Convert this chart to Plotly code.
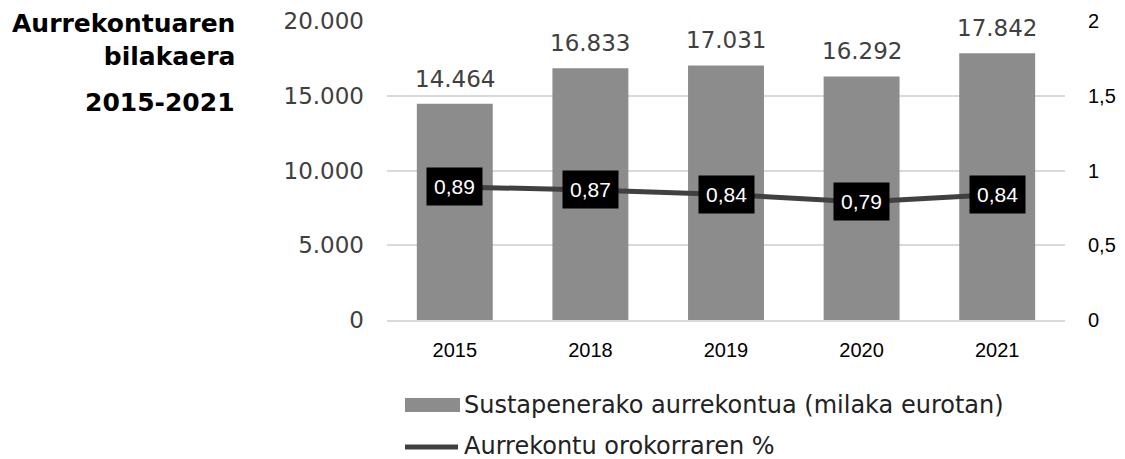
import plotly.graph_objects as go

years = ["2015", "2018", "2019", "2020", "2021"]
budget = [14464, 16833, 17031, 16292, 17842]
pct = [0.89, 0.87, 0.84, 0.79, 0.84]
budget_labels = ["14.464", "16.833", "17.031", "16.292", "17.842"]
pct_labels = ["0,89", "0,87", "0,84", "0,79", "0,84"]
y_ticks = [0, 5000, 10000, 15000, 20000]
y_ticklabels = ["0", "5.000", "10.000", "15.000", "20.000"]
y2_ticks = [0, 0.5, 1, 1.5, 2]
y2_ticklabels = ["0", "0,5", "1", "1,5", "2"]
bar_name = "Sustapenerako aurrekontua (milaka eurotan)"
line_name = "Aurrekontu orokorraren %"

# layout geometry (page has 8px body margin)
W, H = 1117, 451
L, T, R, B = 379, 13, 60, 139
PW, PH = W - L - R, H - T - B
OFF = 8
def px(xabs):
    return (xabs - OFF - L) / PW
def py(yabs):
    return 1 - (yabs - OFF - T) / PH

BAR_COLOR = "#8c8c8c"
LINE_COLOR = "#404040"

fig = go.Figure()
fig.add_trace(go.Bar(
    x=years, y=budget, name=bar_name, showlegend=False,
    marker=dict(color=BAR_COLOR, line=dict(width=0)),
    width=0.56,
))
fig.add_trace(go.Scatter(
    x=years, y=pct, yaxis="y2", mode="lines", name=line_name, showlegend=False,
    line=dict(color=LINE_COLOR, width=5),
))
for i, (v, t) in enumerate(zip(budget, budget_labels)):
    fig.add_annotation(x=i, y=v, xref="x", yref="y", text=t, showarrow=False,
                       yanchor="bottom", yshift=10,
                       font=dict(family="DejaVu Sans", size=23, color="#404040"))
for i, (v, t) in enumerate(zip(pct, pct_labels)):
    fig.add_annotation(x=i, y=v, xref="x", yref="y2", text=t, showarrow=False,
                       bgcolor="black", font=dict(family="Liberation Sans", size=21, color="white"),
                       borderpad=7)

# title
fig.add_annotation(xref="paper", yref="paper", x=px(237), y=py(40), xanchor="right", yanchor="middle",
                   text="<b>Aurrekontuaren<br>bilakaera</b>", showarrow=False, align="right",
                   font=dict(family="DejaVu Sans", size=25, color="black"))
fig.add_annotation(xref="paper", yref="paper", x=px(237), y=py(102), xanchor="right", yanchor="middle",
                   text="<b>2015-2021</b>", showarrow=False, align="right",
                   font=dict(family="DejaVu Sans", size=25, color="black"))

# custom legend
fig.add_shape(type="rect", xref="paper", yref="paper", x0=px(405), x1=px(460), y0=py(412), y1=py(398),
              fillcolor=BAR_COLOR, line=dict(width=0))
fig.add_shape(type="line", xref="paper", yref="paper", x0=px(405), x1=px(458), y0=py(447), y1=py(447),
              line=dict(color=LINE_COLOR, width=5))
fig.add_annotation(xref="paper", yref="paper", x=px(462), y=py(405), xanchor="left", yanchor="middle",
                   text=bar_name, showarrow=False,
                   font=dict(family="DejaVu Sans", size=24, color="#222222"))
fig.add_annotation(xref="paper", yref="paper", x=px(462), y=py(446), xanchor="left", yanchor="middle",
                   text=line_name, showarrow=False,
                   font=dict(family="DejaVu Sans", size=24, color="#222222"))

fig.update_layout(
    width=W, height=H,
    margin=dict(l=L, r=R, t=T, b=B, autoexpand=False),
    paper_bgcolor="white", plot_bgcolor="white",
    showlegend=False,
    xaxis=dict(type="category", tickfont=dict(family="Liberation Sans", size=20, color="black"),
               showline=True, linecolor="#d9d9d9", linewidth=1.5, ticks="", ticklabelstandoff=11),
    yaxis=dict(range=[0, 20000], tickvals=y_ticks, ticktext=y_ticklabels,
               gridcolor="#d9d9d9", gridwidth=1.5, zeroline=False,
               tickfont=dict(family="DejaVu Sans", size=23, color="#404040"),
               ticklabelstandoff=22),
    yaxis2=dict(range=[0, 2], tickvals=y2_ticks, ticktext=y2_ticklabels, overlaying="y",
                side="right", showgrid=False, zeroline=False,
                tickfont=dict(family="Liberation Sans", size=20, color="black"),
                ticklabelstandoff=22),
)
fig.write_html("out.html")
